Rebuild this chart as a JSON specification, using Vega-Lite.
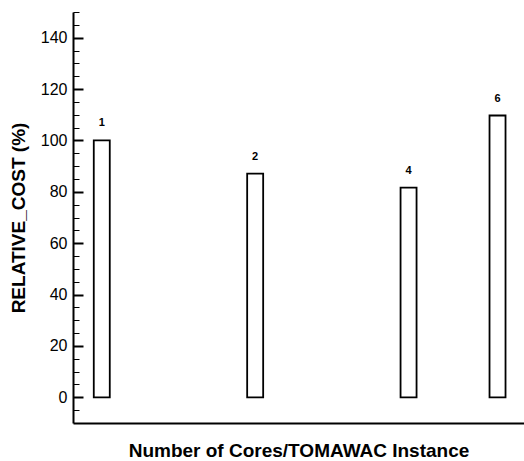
{
  "$schema": "https://vega.github.io/schema/vega-lite/v6.json",
  "autosize": {"type": "none"},
  "padding": {"left": 73, "top": 12, "right": 0, "bottom": 38},
  "width": 451,
  "height": 411,
  "background": "white",
  "config": {
    "view": {"stroke": null},
    "font": "Liberation Sans"
  },
  "data": {
    "values": [
      {"cores": "1", "position": 1, "relative_cost": 100},
      {"cores": "2", "position": 2, "relative_cost": 87.1},
      {"cores": "4", "position": 3, "relative_cost": 81.6},
      {"cores": "6", "position": 3.58, "relative_cost": 109.7}
    ]
  },
  "encoding": {
    "x": {
      "field": "position",
      "type": "quantitative",
      "scale": {"domain": [0.845, 3.72], "nice": false, "zero": false},
      "axis": {
        "title": "Number of Cores/TOMAWAC Instance",
        "titleFont": "Liberation Sans",
        "titleFontSize": 19,
        "titleFontWeight": "bold",
        "titleColor": "black",
        "titlePadding": 18,
        "labels": false,
        "ticks": false,
        "grid": false,
        "domainColor": "black",
        "domainWidth": 2
      }
    },
    "y": {
      "field": "relative_cost",
      "type": "quantitative",
      "scale": {"domain": [-10, 150], "nice": false, "zero": false},
      "axis": {
        "title": "RELATIVE_COST (%)",
        "titleFont": "Liberation Sans",
        "titleFontSize": 19,
        "titleFontWeight": "bold",
        "titleColor": "black",
        "titlePadding": 12,
        "grid": false,
        "values": [-5, 0, 5, 10, 15, 20, 25, 30, 35, 40, 45, 50, 55, 60, 65, 70, 75, 80, 85, 90, 95, 100, 105, 110, 115, 120, 125, 130, 135, 140, 145, 150],
        "labelExpr": "datum.value % 20 === 0 ? datum.label : ''",
        "labelFontSize": 16,
        "labelColor": "black",
        "labelPadding": 16,
        "tickSize": {"condition": {"test": "datum.value % 20 === 0", "value": -10}, "value": -6},
        "tickColor": "black",
        "tickWidth": {"condition": {"test": "datum.value % 20 === 0", "value": 2}, "value": 1},
        "domainColor": "black",
        "domainWidth": 2
      }
    }
  },
  "layer": [
    {
      "mark": {"type": "bar", "width": 16, "fill": "white", "stroke": "black", "strokeWidth": 1.8}
    },
    {
      "mark": {"type": "text", "baseline": "bottom", "dy": -12, "fontSize": 11, "fontWeight": "bold", "color": "black"},
      "encoding": {"text": {"field": "cores"}}
    }
  ]
}
